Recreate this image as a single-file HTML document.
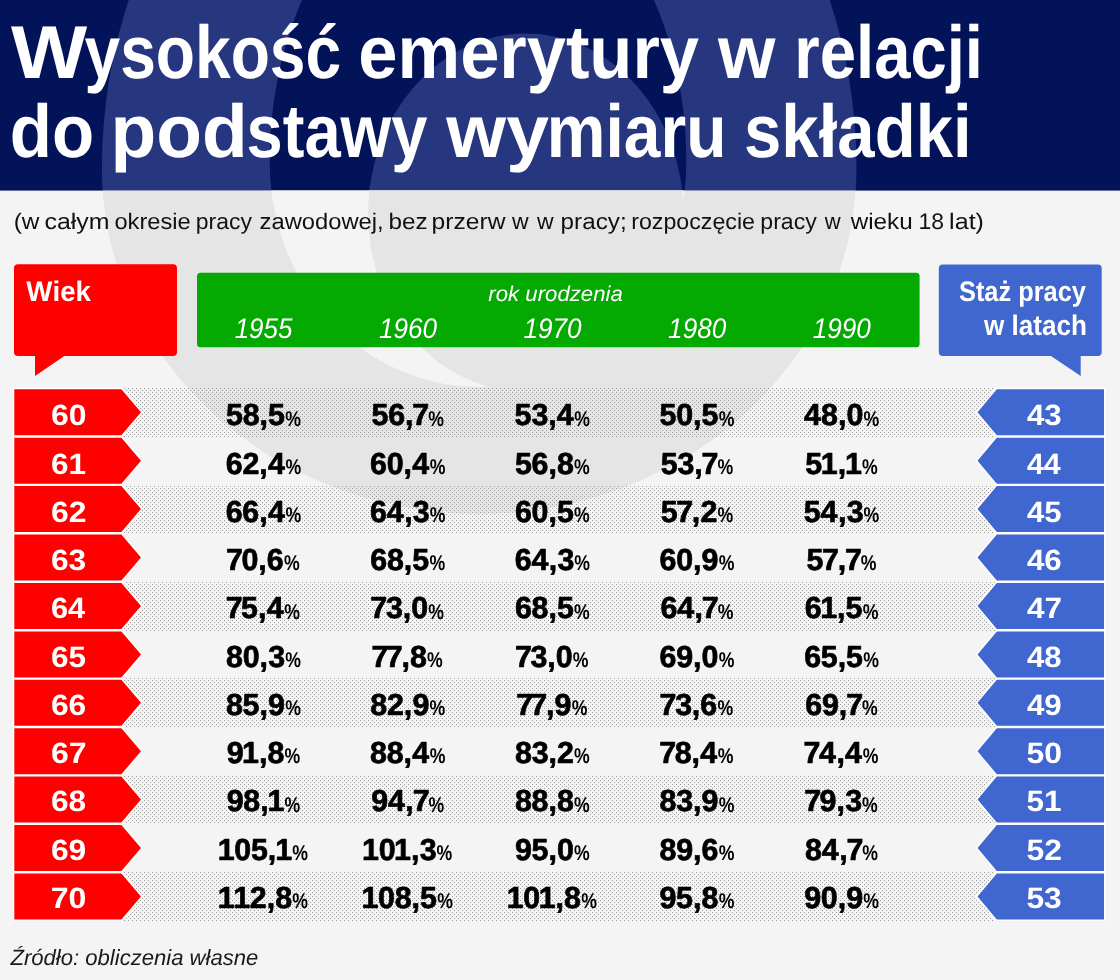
<!DOCTYPE html>
<html lang="pl"><head><meta charset="utf-8"><title>Wysokość emerytury w relacji do podstawy wymiaru składki</title>
<style>
html,body{margin:0;padding:0;background:#f4f4f4;}
body{width:1120px;height:980px;overflow:hidden;font-family:"Liberation Sans", sans-serif;}
svg{display:block;font-family:"Liberation Sans", sans-serif;font-kerning:none;text-rendering:geometricPrecision;}
text{white-space:pre;}
.t{font-weight:700;fill:#fff;}
.sub{fill:#111;}
.hd{font-weight:700;fill:#fff;}
.it{font-style:italic;fill:#fff;}
.num{font-weight:700;fill:#fff;}
.val{font-weight:700;fill:#000;stroke:#000;stroke-width:.7px;stroke-linejoin:round;}
.pc{font-weight:700;fill:#000;}
.src{font-style:italic;fill:#1a1a1a;}
</style></head><body>
<svg width="1120" height="980" viewBox="0 0 1120 980">
<defs>
<clipPath id="ch"><rect x="0" y="0" width="1120" height="190.6"/></clipPath>
<clipPath id="cb"><rect x="0" y="190.6" width="1120" height="789.4"/></clipPath>
<pattern id="dots" x="0" y="0" width="4" height="4" patternUnits="userSpaceOnUse">
<rect x="0" y="0" width="1" height="1" fill="#9c9c9c"/><rect x="2" y="2" width="1" height="1" fill="#9c9c9c"/>
</pattern>
</defs>
<rect width="1120" height="980" fill="#f4f4f4"/>
<rect width="1120" height="190.6" fill="#02135a"/>
<g clip-path="url(#ch)"><path d="M101.9 168.4A377.3 454.5 0 0 1 856.5 168.4A377.3 345.5 0 0 1 101.9 168.4Z" fill="#26367f"/><path d="M269.7 162A208.3 303 0 0 1 686.3 162A208.3 225 0 0 1 269.7 162Z" fill="#02135a"/><path d="M368.0 214A157.8 180.5 0 0 1 683.6 214A157.8 178 0 0 1 368.0 214Z" fill="#26367f"/></g>
<g clip-path="url(#cb)"><path d="M101.9 168.4A377.3 454.5 0 0 1 856.5 168.4A377.3 345.5 0 0 1 101.9 168.4Z" fill="#e5e5e5"/><path d="M269.7 162A208.3 303 0 0 1 686.3 162A208.3 225 0 0 1 269.7 162Z" fill="#f4f4f4"/><path d="M368.0 214A157.8 180.5 0 0 1 683.6 214A157.8 178 0 0 1 368.0 214Z" fill="#e5e5e5"/></g>

<text class="t" y="78.4" font-size="75"><tspan x="11.02" textLength="76.16" lengthAdjust="spacingAndGlyphs">W</tspan><tspan x="84.5" textLength="256.68" lengthAdjust="spacingAndGlyphs">ysokość</tspan> <tspan x="358.35" textLength="340.63" lengthAdjust="spacingAndGlyphs">emerytury</tspan> <tspan x="718.12" textLength="57.44" lengthAdjust="spacingAndGlyphs">w</tspan> <tspan x="794.3" textLength="188.72" lengthAdjust="spacingAndGlyphs">relacji</tspan></text>
<text class="t" y="156.8" font-size="75"><tspan x="9.77" textLength="84.33" lengthAdjust="spacingAndGlyphs">do</tspan> <tspan x="110.47" textLength="137.17" lengthAdjust="spacingAndGlyphs">pod</tspan><tspan x="246.51" textLength="180.94" lengthAdjust="spacingAndGlyphs">stawy</tspan> <tspan x="446.33" textLength="102.59" lengthAdjust="spacingAndGlyphs">wy</tspan><tspan x="546.85" textLength="179.59" lengthAdjust="spacingAndGlyphs">miaru</tspan> <tspan x="744.04" textLength="227.61" lengthAdjust="spacingAndGlyphs">składki</tspan></text>
<text class="sub" y="229.3" font-size="22.5"><tspan x="13.69" textLength="25.75" lengthAdjust="spacingAndGlyphs">(w</tspan> <tspan x="44.44" textLength="65.0" lengthAdjust="spacingAndGlyphs">całym</tspan> <tspan x="114.41" textLength="76.35" lengthAdjust="spacingAndGlyphs">okresie</tspan> <tspan x="195.82" textLength="56.23" lengthAdjust="spacingAndGlyphs">pracy</tspan> <tspan x="259.54" textLength="124.2" lengthAdjust="spacingAndGlyphs">zawodowej,</tspan> <tspan x="388.53" textLength="39.18" lengthAdjust="spacingAndGlyphs">bez</tspan> <tspan x="431.61" textLength="73.83" lengthAdjust="spacingAndGlyphs">przerw</tspan> <tspan x="512.13" textLength="16.61" lengthAdjust="spacingAndGlyphs">w</tspan> <tspan x="537.03" textLength="16.61" lengthAdjust="spacingAndGlyphs">w</tspan> <tspan x="560.64" textLength="66.04" lengthAdjust="spacingAndGlyphs">pracy;</tspan> <tspan x="631.16" textLength="123.87" lengthAdjust="spacingAndGlyphs">rozpoczęcie</tspan> <tspan x="760.31" textLength="56.54" lengthAdjust="spacingAndGlyphs">pracy</tspan> <tspan x="824.63" textLength="15.91" lengthAdjust="spacingAndGlyphs">w</tspan> <tspan x="850.74" textLength="61.97" lengthAdjust="spacingAndGlyphs">wieku</tspan> <tspan x="918.56" textLength="25.44" lengthAdjust="spacingAndGlyphs">18</tspan> <tspan x="949.11" textLength="34.85" lengthAdjust="spacingAndGlyphs">lat)</tspan></text>
<rect x="14" y="388" width="1090" height="49" fill="url(#dots)"/>
<rect x="14" y="485" width="1090" height="49" fill="url(#dots)"/>
<rect x="14" y="582" width="1090" height="49" fill="url(#dots)"/>
<rect x="14" y="678" width="1090" height="49" fill="url(#dots)"/>
<rect x="14" y="775" width="1090" height="49" fill="url(#dots)"/>
<rect x="14" y="872" width="1090" height="49" fill="url(#dots)"/>
<path d="M18 264.3H173a4 4 0 0 1 4 4V352a4 4 0 0 1-4 4H64.3L35 376V356H18a4 4 0 0 1-4-4V268.3a4 4 0 0 1 4-4Z" fill="#fe0000"/>
<text class="hd" x="26.37" y="301.4" font-size="28.4" textLength="64.6" lengthAdjust="spacingAndGlyphs">Wiek</text>
<rect x="197" y="272.7" width="722.6" height="74.6" rx="3.5" fill="#04a902"/>
<text class="it" x="488.38" y="301" font-size="21.5" textLength="134.38" lengthAdjust="spacingAndGlyphs">rok urodzenia</text>
<text class="it" x="234.63" y="337.8" font-size="28.4" textLength="57.81" lengthAdjust="spacingAndGlyphs">1955</text>
<text class="it" x="378.92" y="337.8" font-size="28.4" textLength="58.09" lengthAdjust="spacingAndGlyphs">1960</text>
<text class="it" x="523.52" y="337.8" font-size="28.4" textLength="58.09" lengthAdjust="spacingAndGlyphs">1970</text>
<text class="it" x="668.12" y="337.8" font-size="28.4" textLength="58.09" lengthAdjust="spacingAndGlyphs">1980</text>
<text class="it" x="812.72" y="337.8" font-size="28.4" textLength="58.09" lengthAdjust="spacingAndGlyphs">1990</text>
<path d="M942.8 264.6H1097.7a4 4 0 0 1 4 4V351.9a4 4 0 0 1-4 4H1080.7V376.1L1051 355.9H942.8a4 4 0 0 1-4-4V268.6a4 4 0 0 1 4-4Z" fill="#4067cf"/>
<text class="hd" x="958.97" y="301.3" font-size="28.2" textLength="126.97" lengthAdjust="spacingAndGlyphs">Staż pracy</text>
<text class="hd" x="983.98" y="334.7" font-size="28.2" textLength="102.94" lengthAdjust="spacingAndGlyphs">w latach</text>
<path d="M14.3 389.3H121.4L141 412.3L121.4 435.3H14.3Z" fill="#fe0000" stroke="#fff" stroke-width="3" paint-order="stroke"/>
<path d="M1104 389.3H996.8L977.5 412.3L996.8 435.3H1104Z" fill="#4067cf" stroke="#fff" stroke-width="3" paint-order="stroke"/>
<text class="num" x="50.93" y="425.4" font-size="29.4" textLength="35.48" lengthAdjust="spacingAndGlyphs">60</text>
<text class="num" x="1026.93" y="425.4" font-size="29.4" textLength="34.8" lengthAdjust="spacingAndGlyphs">43</text>
<text class="val" x="226.0 242.63 259.56 268.0" y="425.4" font-size="30.4">58,5</text><text class="pc" x="285.16" y="425.5" font-size="21.3" textLength="15.71" lengthAdjust="spacingAndGlyphs">%</text>
<text class="val" x="371.5 388.14 405.06 412.36" y="425.4" font-size="30.4">56,7</text><text class="pc" x="428.26" y="425.5" font-size="21.3" textLength="15.71" lengthAdjust="spacingAndGlyphs">%</text>
<text class="val" x="514.6 531.45 548.16 556.8" y="425.4" font-size="30.4">53,4</text><text class="pc" x="574.36" y="425.5" font-size="21.3" textLength="15.71" lengthAdjust="spacingAndGlyphs">%</text>
<text class="val" x="659.5 676.17 693.06 701.5" y="425.4" font-size="30.4">50,5</text><text class="pc" x="718.66" y="425.5" font-size="21.3" textLength="15.71" lengthAdjust="spacingAndGlyphs">%</text>
<text class="val" x="804.0 821.03 837.96 846.47" y="425.4" font-size="30.4">48,0</text><text class="pc" x="863.56" y="425.5" font-size="21.3" textLength="15.71" lengthAdjust="spacingAndGlyphs">%</text>
<path d="M14.3 437.7H121.4L141 460.7L121.4 483.7H14.3Z" fill="#fe0000" stroke="#fff" stroke-width="3" paint-order="stroke"/>
<path d="M1104 437.7H996.8L977.5 460.7L996.8 483.7H1104Z" fill="#4067cf" stroke="#fff" stroke-width="3" paint-order="stroke"/>
<text class="num" x="50.95" y="473.7" font-size="29.4" textLength="35.03" lengthAdjust="spacingAndGlyphs">61</text>
<text class="num" x="1026.94" y="473.7" font-size="29.4" textLength="33.82" lengthAdjust="spacingAndGlyphs">44</text>
<text class="val" x="225.74 242.43 259.26 267.9" y="473.7" font-size="30.4">62,4</text><text class="pc" x="285.46" y="473.8" font-size="21.3" textLength="15.71" lengthAdjust="spacingAndGlyphs">%</text>
<text class="val" x="370.04 386.67 403.56 412.2" y="473.7" font-size="30.4">60,4</text><text class="pc" x="429.76" y="473.8" font-size="21.3" textLength="15.71" lengthAdjust="spacingAndGlyphs">%</text>
<text class="val" x="514.9 531.54 548.46 556.93" y="473.7" font-size="30.4">56,8</text><text class="pc" x="574.06" y="473.8" font-size="21.3" textLength="15.71" lengthAdjust="spacingAndGlyphs">%</text>
<text class="val" x="660.7 677.55 694.26 701.56" y="473.7" font-size="30.4">53,7</text><text class="pc" x="717.46" y="473.8" font-size="21.3" textLength="15.71" lengthAdjust="spacingAndGlyphs">%</text>
<text class="val" x="805.3 820.81 837.66 845.01" y="473.7" font-size="30.4">51,1</text><text class="pc" x="862.06" y="473.8" font-size="21.3" textLength="15.71" lengthAdjust="spacingAndGlyphs">%</text>
<path d="M14.3 486.1H121.4L141 509.1L121.4 532.1H14.3Z" fill="#fe0000" stroke="#fff" stroke-width="3" paint-order="stroke"/>
<path d="M1104 486.1H996.8L977.5 509.1L996.8 532.1H1104Z" fill="#4067cf" stroke="#fff" stroke-width="3" paint-order="stroke"/>
<text class="num" x="50.93" y="521.9" font-size="29.4" textLength="35.44" lengthAdjust="spacingAndGlyphs">62</text>
<text class="num" x="1026.93" y="521.9" font-size="29.4" textLength="34.53" lengthAdjust="spacingAndGlyphs">45</text>
<text class="val" x="225.74 242.34 259.26 267.9" y="521.9" font-size="30.4">66,4</text><text class="pc" x="285.46" y="522.0" font-size="21.3" textLength="15.71" lengthAdjust="spacingAndGlyphs">%</text>
<text class="val" x="370.04 386.8 404.16 412.85" y="521.9" font-size="30.4">64,3</text><text class="pc" x="429.76" y="522.0" font-size="21.3" textLength="15.71" lengthAdjust="spacingAndGlyphs">%</text>
<text class="val" x="514.94 531.57 548.46 556.9" y="521.9" font-size="30.4">60,5</text><text class="pc" x="574.06" y="522.0" font-size="21.3" textLength="15.71" lengthAdjust="spacingAndGlyphs">%</text>
<text class="val" x="660.7 676.16 691.86 700.43" y="521.9" font-size="30.4">57,2</text><text class="pc" x="717.46" y="522.0" font-size="21.3" textLength="15.71" lengthAdjust="spacingAndGlyphs">%</text>
<text class="val" x="803.8 820.6 837.96 846.65" y="521.9" font-size="30.4">54,3</text><text class="pc" x="863.56" y="522.0" font-size="21.3" textLength="15.71" lengthAdjust="spacingAndGlyphs">%</text>
<path d="M14.3 534.5H121.4L141 557.5L121.4 580.5H14.3Z" fill="#fe0000" stroke="#fff" stroke-width="3" paint-order="stroke"/>
<path d="M1104 534.5H996.8L977.5 557.5L996.8 580.5H1104Z" fill="#4067cf" stroke="#fff" stroke-width="3" paint-order="stroke"/>
<text class="num" x="50.94" y="570.2" font-size="29.4" textLength="35.31" lengthAdjust="spacingAndGlyphs">63</text>
<text class="num" x="1026.93" y="570.2" font-size="29.4" textLength="34.8" lengthAdjust="spacingAndGlyphs">46</text>
<text class="val" x="226.06 241.47 258.36 266.84" y="570.2" font-size="30.4">70,6</text><text class="pc" x="283.96" y="570.3" font-size="21.3" textLength="15.71" lengthAdjust="spacingAndGlyphs">%</text>
<text class="val" x="370.34 386.93 403.86 412.3" y="570.2" font-size="30.4">68,5</text><text class="pc" x="429.46" y="570.3" font-size="21.3" textLength="15.71" lengthAdjust="spacingAndGlyphs">%</text>
<text class="val" x="514.64 531.4 548.76 557.45" y="570.2" font-size="30.4">64,3</text><text class="pc" x="574.36" y="570.3" font-size="21.3" textLength="15.71" lengthAdjust="spacingAndGlyphs">%</text>
<text class="val" x="659.54 676.17 693.06 701.58" y="570.2" font-size="30.4">60,9</text><text class="pc" x="718.66" y="570.3" font-size="21.3" textLength="15.71" lengthAdjust="spacingAndGlyphs">%</text>
<text class="val" x="806.5 821.96 837.66 844.96" y="570.2" font-size="30.4">57,7</text><text class="pc" x="860.86" y="570.3" font-size="21.3" textLength="15.71" lengthAdjust="spacingAndGlyphs">%</text>
<path d="M14.3 582.9H121.4L141 605.9L121.4 628.9H14.3Z" fill="#fe0000" stroke="#fff" stroke-width="3" paint-order="stroke"/>
<path d="M1104 582.9H996.8L977.5 605.9L996.8 628.9H1104Z" fill="#4067cf" stroke="#fff" stroke-width="3" paint-order="stroke"/>
<text class="num" x="50.97" y="618.4" font-size="29.4" textLength="34.29" lengthAdjust="spacingAndGlyphs">64</text>
<text class="num" x="1026.92" y="618.4" font-size="29.4" textLength="35.06" lengthAdjust="spacingAndGlyphs">47</text>
<text class="val" x="225.76 241.1 258.06 266.7" y="618.4" font-size="30.4">75,4</text><text class="pc" x="284.26" y="618.5" font-size="21.3" textLength="15.71" lengthAdjust="spacingAndGlyphs">%</text>
<text class="val" x="370.36 385.95 402.66 411.17" y="618.4" font-size="30.4">73,0</text><text class="pc" x="428.26" y="618.5" font-size="21.3" textLength="15.71" lengthAdjust="spacingAndGlyphs">%</text>
<text class="val" x="514.94 531.53 548.46 556.9" y="618.4" font-size="30.4">68,5</text><text class="pc" x="574.06" y="618.5" font-size="21.3" textLength="15.71" lengthAdjust="spacingAndGlyphs">%</text>
<text class="val" x="660.44 677.2 694.56 701.86" y="618.4" font-size="30.4">64,7</text><text class="pc" x="717.76" y="618.5" font-size="21.3" textLength="15.71" lengthAdjust="spacingAndGlyphs">%</text>
<text class="val" x="804.74 820.21 837.06 845.5" y="618.4" font-size="30.4">61,5</text><text class="pc" x="862.66" y="618.5" font-size="21.3" textLength="15.71" lengthAdjust="spacingAndGlyphs">%</text>
<path d="M14.3 631.4H121.4L141 654.4L121.4 677.4H14.3Z" fill="#fe0000" stroke="#fff" stroke-width="3" paint-order="stroke"/>
<path d="M1104 631.4H996.8L977.5 654.4L996.8 677.4H1104Z" fill="#4067cf" stroke="#fff" stroke-width="3" paint-order="stroke"/>
<text class="num" x="50.95" y="666.7" font-size="29.4" textLength="35.03" lengthAdjust="spacingAndGlyphs">65</text>
<text class="num" x="1026.93" y="666.7" font-size="29.4" textLength="34.63" lengthAdjust="spacingAndGlyphs">48</text>
<text class="val" x="226.03 242.67 259.56 268.25" y="666.7" font-size="30.4">80,3</text><text class="pc" x="285.16" y="666.8" font-size="21.3" textLength="15.71" lengthAdjust="spacingAndGlyphs">%</text>
<text class="val" x="371.56 385.76 401.46 409.93" y="666.7" font-size="30.4">77,8</text><text class="pc" x="427.06" y="666.8" font-size="21.3" textLength="15.71" lengthAdjust="spacingAndGlyphs">%</text>
<text class="val" x="514.96 530.55 547.26 555.77" y="666.7" font-size="30.4">73,0</text><text class="pc" x="572.86" y="666.8" font-size="21.3" textLength="15.71" lengthAdjust="spacingAndGlyphs">%</text>
<text class="val" x="659.54 676.18 693.06 701.57" y="666.7" font-size="30.4">69,0</text><text class="pc" x="718.66" y="666.8" font-size="21.3" textLength="15.71" lengthAdjust="spacingAndGlyphs">%</text>
<text class="val" x="804.14 820.7 837.66 846.1" y="666.7" font-size="30.4">65,5</text><text class="pc" x="863.26" y="666.8" font-size="21.3" textLength="15.71" lengthAdjust="spacingAndGlyphs">%</text>
<path d="M14.3 679.8H121.4L141 702.8L121.4 725.8H14.3Z" fill="#fe0000" stroke="#fff" stroke-width="3" paint-order="stroke"/>
<path d="M1104 679.8H996.8L977.5 702.8L996.8 725.8H1104Z" fill="#4067cf" stroke="#fff" stroke-width="3" paint-order="stroke"/>
<text class="num" x="50.94" y="714.9" font-size="29.4" textLength="35.31" lengthAdjust="spacingAndGlyphs">66</text>
<text class="num" x="1026.93" y="714.9" font-size="29.4" textLength="34.84" lengthAdjust="spacingAndGlyphs">49</text>
<text class="val" x="226.03 242.6 259.56 268.08" y="714.9" font-size="30.4">85,9</text><text class="pc" x="285.16" y="715.0" font-size="21.3" textLength="15.71" lengthAdjust="spacingAndGlyphs">%</text>
<text class="val" x="370.33 387.03 403.86 412.38" y="714.9" font-size="30.4">82,9</text><text class="pc" x="429.46" y="715.0" font-size="21.3" textLength="15.71" lengthAdjust="spacingAndGlyphs">%</text>
<text class="val" x="516.16 530.36 546.06 554.58" y="714.9" font-size="30.4">77,9</text><text class="pc" x="571.66" y="715.0" font-size="21.3" textLength="15.71" lengthAdjust="spacingAndGlyphs">%</text>
<text class="val" x="659.56 675.15 691.86 700.34" y="714.9" font-size="30.4">73,6</text><text class="pc" x="717.46" y="715.0" font-size="21.3" textLength="15.71" lengthAdjust="spacingAndGlyphs">%</text>
<text class="val" x="805.34 821.98 838.86 846.16" y="714.9" font-size="30.4">69,7</text><text class="pc" x="862.06" y="715.0" font-size="21.3" textLength="15.71" lengthAdjust="spacingAndGlyphs">%</text>
<path d="M14.3 728.2H121.4L141 751.2L121.4 774.2H14.3Z" fill="#fe0000" stroke="#fff" stroke-width="3" paint-order="stroke"/>
<path d="M1104 728.2H996.8L977.5 751.2L996.8 774.2H1104Z" fill="#4067cf" stroke="#fff" stroke-width="3" paint-order="stroke"/>
<text class="num" x="50.93" y="763.2" font-size="29.4" textLength="35.58" lengthAdjust="spacingAndGlyphs">67</text>
<text class="num" x="1026.42" y="763.2" font-size="29.4" textLength="35.49" lengthAdjust="spacingAndGlyphs">50</text>
<text class="val" x="226.68 242.11 258.96 267.43" y="763.2" font-size="30.4">91,8</text><text class="pc" x="284.56" y="763.3" font-size="21.3" textLength="15.71" lengthAdjust="spacingAndGlyphs">%</text>
<text class="val" x="370.03 386.63 403.56 412.2" y="763.2" font-size="30.4">88,4</text><text class="pc" x="429.76" y="763.3" font-size="21.3" textLength="15.71" lengthAdjust="spacingAndGlyphs">%</text>
<text class="val" x="514.93 531.75 548.46 557.03" y="763.2" font-size="30.4">83,2</text><text class="pc" x="574.06" y="763.3" font-size="21.3" textLength="15.71" lengthAdjust="spacingAndGlyphs">%</text>
<text class="val" x="659.26 674.63 691.56 700.2" y="763.2" font-size="30.4">78,4</text><text class="pc" x="717.76" y="763.3" font-size="21.3" textLength="15.71" lengthAdjust="spacingAndGlyphs">%</text>
<text class="val" x="803.56 819.1 836.46 845.1" y="763.2" font-size="30.4">74,4</text><text class="pc" x="862.66" y="763.3" font-size="21.3" textLength="15.71" lengthAdjust="spacingAndGlyphs">%</text>
<path d="M14.3 776.6H121.4L141 799.6L121.4 822.6H14.3Z" fill="#fe0000" stroke="#fff" stroke-width="3" paint-order="stroke"/>
<path d="M1104 776.6H996.8L977.5 799.6L996.8 822.6H1104Z" fill="#4067cf" stroke="#fff" stroke-width="3" paint-order="stroke"/>
<text class="num" x="50.94" y="811.4" font-size="29.4" textLength="35.13" lengthAdjust="spacingAndGlyphs">68</text>
<text class="num" x="1026.43" y="811.4" font-size="29.4" textLength="35.05" lengthAdjust="spacingAndGlyphs">51</text>
<text class="val" x="226.68 243.23 260.16 267.51" y="811.4" font-size="30.4">98,1</text><text class="pc" x="284.56" y="811.5" font-size="21.3" textLength="15.71" lengthAdjust="spacingAndGlyphs">%</text>
<text class="val" x="371.28 388.0 405.36 412.66" y="811.4" font-size="30.4">94,7</text><text class="pc" x="428.56" y="811.5" font-size="21.3" textLength="15.71" lengthAdjust="spacingAndGlyphs">%</text>
<text class="val" x="514.93 531.53 548.46 556.93" y="811.4" font-size="30.4">88,8</text><text class="pc" x="574.06" y="811.5" font-size="21.3" textLength="15.71" lengthAdjust="spacingAndGlyphs">%</text>
<text class="val" x="659.53 676.35 693.06 701.58" y="811.4" font-size="30.4">83,9</text><text class="pc" x="718.66" y="811.5" font-size="21.3" textLength="15.71" lengthAdjust="spacingAndGlyphs">%</text>
<text class="val" x="804.16 819.58 836.46 845.15" y="811.4" font-size="30.4">79,3</text><text class="pc" x="862.06" y="811.5" font-size="21.3" textLength="15.71" lengthAdjust="spacingAndGlyphs">%</text>
<path d="M14.3 825.0H121.4L141 848.0L121.4 871.0H14.3Z" fill="#fe0000" stroke="#fff" stroke-width="3" paint-order="stroke"/>
<path d="M1104 825.0H996.8L977.5 848.0L996.8 871.0H1104Z" fill="#4067cf" stroke="#fff" stroke-width="3" paint-order="stroke"/>
<text class="num" x="50.94" y="859.7" font-size="29.4" textLength="35.34" lengthAdjust="spacingAndGlyphs">69</text>
<text class="num" x="1026.42" y="859.7" font-size="29.4" textLength="35.46" lengthAdjust="spacingAndGlyphs">52</text>
<text class="val" x="217.81 234.37 250.9 267.86 275.21" y="859.7" font-size="30.4">105,1</text><text class="pc" x="292.26" y="859.8" font-size="21.3" textLength="15.71" lengthAdjust="spacingAndGlyphs">%</text>
<text class="val" x="362.11 378.67 394.11 410.96 419.65" y="859.7" font-size="30.4">101,3</text><text class="pc" x="436.56" y="859.8" font-size="21.3" textLength="15.71" lengthAdjust="spacingAndGlyphs">%</text>
<text class="val" x="514.98 531.5 548.46 556.97" y="859.7" font-size="30.4">95,0</text><text class="pc" x="574.06" y="859.8" font-size="21.3" textLength="15.71" lengthAdjust="spacingAndGlyphs">%</text>
<text class="val" x="659.53 676.18 693.06 701.54" y="859.7" font-size="30.4">89,6</text><text class="pc" x="718.66" y="859.8" font-size="21.3" textLength="15.71" lengthAdjust="spacingAndGlyphs">%</text>
<text class="val" x="805.03 821.8 839.16 846.46" y="859.7" font-size="30.4">84,7</text><text class="pc" x="862.36" y="859.8" font-size="21.3" textLength="15.71" lengthAdjust="spacingAndGlyphs">%</text>
<path d="M14.3 873.4H121.4L141 896.4L121.4 919.4H14.3Z" fill="#fe0000" stroke="#fff" stroke-width="3" paint-order="stroke"/>
<path d="M1104 873.4H996.8L977.5 896.4L996.8 919.4H1104Z" fill="#4067cf" stroke="#fff" stroke-width="3" paint-order="stroke"/>
<text class="num" x="50.72" y="907.9" font-size="29.4" textLength="35.7" lengthAdjust="spacingAndGlyphs">70</text>
<text class="num" x="1026.42" y="907.9" font-size="29.4" textLength="35.32" lengthAdjust="spacingAndGlyphs">53</text>
<text class="val" x="217.81 233.21 249.83 266.66 275.13" y="907.9" font-size="30.4">112,8</text><text class="pc" x="292.26" y="908.0" font-size="21.3" textLength="15.71" lengthAdjust="spacingAndGlyphs">%</text>
<text class="val" x="361.51 378.07 394.63 411.56 420.0" y="907.9" font-size="30.4">108,5</text><text class="pc" x="437.16" y="908.0" font-size="21.3" textLength="15.71" lengthAdjust="spacingAndGlyphs">%</text>
<text class="val" x="506.71 523.27 538.71 555.56 564.03" y="907.9" font-size="30.4">101,8</text><text class="pc" x="581.16" y="908.0" font-size="21.3" textLength="15.71" lengthAdjust="spacingAndGlyphs">%</text>
<text class="val" x="659.58 676.1 693.06 701.53" y="907.9" font-size="30.4">95,8</text><text class="pc" x="718.66" y="908.0" font-size="21.3" textLength="15.71" lengthAdjust="spacingAndGlyphs">%</text>
<text class="val" x="804.18 820.77 837.66 846.18" y="907.9" font-size="30.4">90,9</text><text class="pc" x="863.26" y="908.0" font-size="21.3" textLength="15.71" lengthAdjust="spacingAndGlyphs">%</text>
<text class="src" x="10.43" y="965.3" font-size="22" textLength="247.89" lengthAdjust="spacingAndGlyphs">Źródło: obliczenia własne</text>
</svg></body></html>
